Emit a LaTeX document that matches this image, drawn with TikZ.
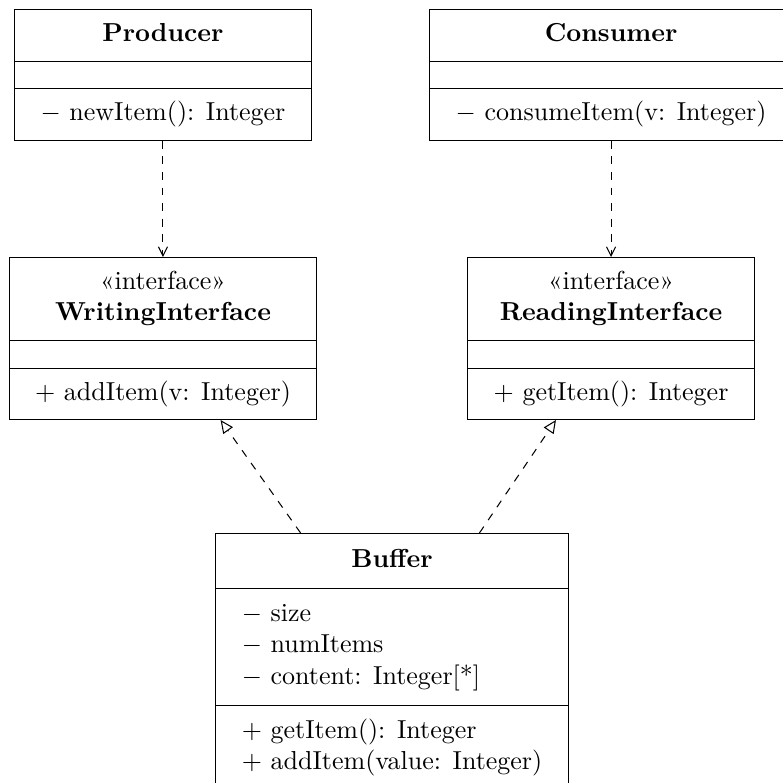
\documentclass[tikz,border=0pt]{standalone}
\usetikzlibrary{shapes.multipart, positioning, arrows.meta}

\newcommand{\nofields}{\rule{0pt}{2.9pt}}

\begin{document}
\begin{tikzpicture}[node distance=1.57cm]
    \tikzset{
        umlclass/.style={rectangle split, rectangle split parts=3, draw,
            inner xsep=10pt, inner ysep=3.7pt,
            rectangle split part align={center,left,left}},
        usedep/.style={dashed, -{Straight Barb[length=3.5pt, width=3.5pt]}},
        implements/.style={dashed, -{Triangle[open, length=5pt, width=4.5pt]}}
    }
    \useasboundingbox (0,0) rectangle (10.584,-10.584);

    % CLASSES
    \node[umlclass, anchor=north] (producer) at (2.203,-0.122)
        {\strut\textbf{Producer}\nodepart{two}\nofields\nodepart{three}\strut$-$ newItem(): Integer};
    \node[umlclass, anchor=north] (consumer) at (8.260,-0.122)
        {\strut\textbf{Consumer}\nodepart{two}\nofields\nodepart{three}\strut$-$ consumeItem(v: Integer)};

    % INTERFACES
    \node[umlclass] (writing) [below=of producer]
        {\begin{tabular}{@{}c@{}}«interface»\\\textbf{WritingInterface}\end{tabular}%
         \nodepart{two}\nofields\nodepart{three}\strut$+$ addItem(v: Integer)};
    \node[umlclass] (reading) [below=of consumer]
        {\begin{tabular}{@{}c@{}}«interface»\\\textbf{ReadingInterface}\end{tabular}%
         \nodepart{two}\nofields\nodepart{three}\strut$+$ getItem(): Integer};

    % BUFFER
    \node[umlclass, anchor=north, inner ysep=4.3pt] (buffer) at (5.299,-7.205)
        {\strut\textbf{Buffer}
         \nodepart{two}\begin{tabular}{@{}l@{}}$-$ size\\$-$ numItems\\$-$ content: Integer[*]\end{tabular}
         \nodepart{three}\begin{tabular}{@{}l@{}}$+$ getItem(): Integer\\$+$ addItem(value: Integer)\end{tabular}};

    % RELATIONS
    \draw[usedep] (producer) -- (writing);
    \draw[usedep] (consumer) -- (reading);
    \draw[implements] (buffer) -- (writing);
    \draw[implements] (buffer) -- (reading);
\end{tikzpicture}
\end{document}
